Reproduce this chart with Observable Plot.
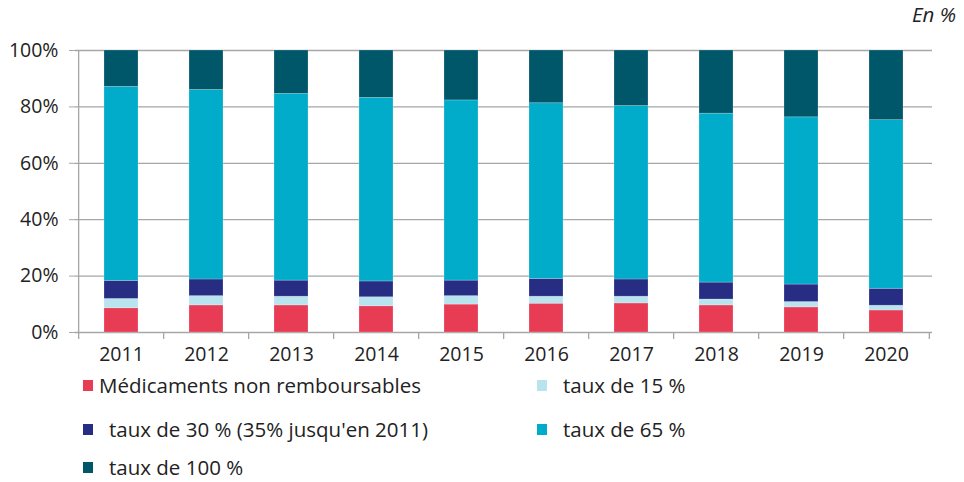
<!DOCTYPE html>
<html>
<head>
<meta charset="utf-8">
<script src="https://cdn.jsdelivr.net/npm/d3@7"></script>
<script src="https://cdn.jsdelivr.net/npm/@observablehq/plot@0.6"></script>
<style>
  html, body { margin: 0; padding: 0; background: #fff; }
  #wrap { position: relative; width: 964px; height: 482px; font-family: "Open Sans", Lato, sans-serif; color: #222; }
  #unit { position: absolute; right: 8px; top: 0px; font-size: 20.5px; font-style: italic; color: #222; }
  .leg { position: absolute; font-size: 20.5px; line-height: 27px; display: flex; align-items: center; white-space: pre; }
  .sw { display: inline-block; width: 10px; height: 11px; }
</style>
</head>
<body>
<div id="wrap"><div id="chart"></div><div id="unit">En %</div><div id="legend"></div></div>
<script>
const years = ["2011","2012","2013","2014","2015","2016","2017","2018","2019","2020"];
const seriesNames = [
  "Médicaments non remboursables",
  "taux de 15 %",
  "taux de 30 % (35% jusqu'en 2011)",
  "taux de 65 %",
  "taux de 100 %"
];
const colors = ["#e83c55", "#b8e4f0", "#282d84", "#00acc9", "#00576a"];
const nonRemb = [8.6, 9.6, 9.6, 9.3, 9.9, 10.2, 10.3, 9.6, 8.9, 7.8];
const taux15  = [3.3, 3.3, 3.1, 3.2, 3.0, 2.5, 2.4, 2.1, 1.9, 1.7];
const taux30  = [6.4, 5.9, 5.7, 5.6, 5.5, 6.3, 6.1, 6.0, 6.2, 6.0];
const taux65  = [68.8, 67.2, 66.2, 65.1, 63.9, 62.3, 61.5, 59.9, 59.3, 59.8];
const taux100 = [12.9, 14.0, 15.4, 16.8, 17.7, 18.7, 19.7, 22.4, 23.7, 24.7];
const yTicks = [0, 20, 40, 60, 80, 100];

const seriesValues = [nonRemb, taux15, taux30, taux65, taux100];
const data = [];
seriesNames.forEach((s, i) => years.forEach((y, j) => data.push({year: y, series: s, value: seriesValues[i][j]})));

const width = 964, height = 372, mL = 75, mR = 32;
const pInner = 0.6, pOuter = 0.3;
const step = (width - mL - mR) / (years.length - pInner + 2 * pOuter);

const chart = Plot.plot({
  width, height,
  marginLeft: mL, marginRight: mR, marginTop: 50, marginBottom: 40,
  style: {fontFamily: "'Open Sans', Lato, sans-serif", fontSize: "19.5px", color: "#222", background: "#fff", overflow: "visible"},
  x: {domain: years, paddingInner: pInner, paddingOuter: pOuter, label: null},
  y: {domain: [0, 100], label: null},
  color: {domain: seriesNames, range: colors},
  marks: [
    Plot.ruleY(yTicks, {y: d => d, stroke: "#a6a6a6", strokeWidth: 1.3}),
    Plot.axisY(yTicks, {tickFormat: d => d + "%", tickSize: 6, tickPadding: 11, stroke: "#a6a6a6", fill: "#222", label: null, fontSize: 19.5}),
    Plot.barY(data, {x: "year", y: "value", fill: "series", order: seriesNames, stroke: "#fff", strokeOpacity: 0.25, strokeWidth: 0.8}),
    Plot.ruleX(years, {x: d => d, dx: -step / 2, y1: -2.5, y2: (d, i) => i === 0 ? 100 : 0, stroke: "#a6a6a6", strokeWidth: 1.3}),
    Plot.ruleX([years[years.length - 1]], {x: d => d, dx: step / 2, y1: -2.5, y2: 0, stroke: "#a6a6a6", strokeWidth: 1.3}),
    Plot.axisX(years, {tickSize: 0, tickPadding: 15, fill: "#222", label: null, fontSize: 19.5})
  ]
});
document.getElementById("chart").appendChild(chart);

const legPos = [
  {left: 83, top: 372, gap: 6},
  {left: 537, top: 372, gap: 16},
  {left: 83, top: 416, gap: 16},
  {left: 537, top: 416, gap: 16},
  {left: 83, top: 454, gap: 16}
];
const leg = document.getElementById("legend");
seriesNames.forEach((s, i) => {
  const d = document.createElement("div");
  d.className = "leg";
  d.style.left = legPos[i].left + "px";
  d.style.top = legPos[i].top + "px";
  const sw = document.createElement("span");
  sw.className = "sw";
  sw.style.background = colors[i];
  sw.style.marginRight = legPos[i].gap + "px";
  d.appendChild(sw);
  d.appendChild(document.createTextNode(s));
  leg.appendChild(d);
});
</script>
</body>
</html>
